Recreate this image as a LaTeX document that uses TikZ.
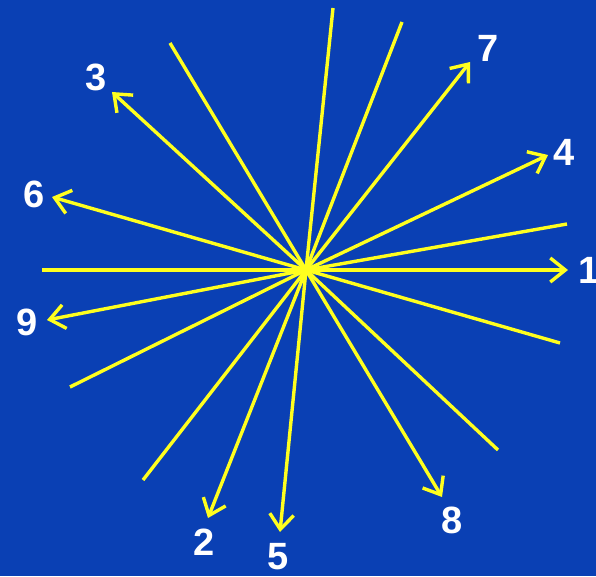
\documentclass[tikz,border=0pt]{standalone}
\usepackage{fontspec}
\setsansfont{Liberation Sans}
\usetikzlibrary{arrows.meta}
\definecolor{bgblue}{HTML}{0A40B4}
\definecolor{rayyellow}{HTML}{FFFF1E}
\tikzset{
  rayline/.style={draw=rayyellow, line width=3.4pt, line join=round, -{Straight Barb[length=15pt, width=24pt, line width=3.4pt]}},
  num/.style={text=white, inner sep=0pt, font=\sffamily\bfseries\fontsize{38}{38}\selectfont}
}
\begin{document}
\begin{tikzpicture}[x=1pt, y=1pt]
  \fill[bgblue] (0,0) rectangle (596,576);
  \useasboundingbox (0,0) rectangle (596,576);

  \coordinate (c) at (306,306);

  % free ends of the rays
  \coordinate (t1) at (42,306);
  \coordinate (t2) at (402,554);
  \coordinate (t3) at (498,126);
  \coordinate (t4) at (70,189);
  \coordinate (t5) at (333,568);
  \coordinate (t6) at (560,233);
  \coordinate (t7) at (143,96);
  \coordinate (t8) at (170,533);
  \coordinate (t9) at (567,352);

  % arrow tips
  \coordinate (h1) at (568,306);
  \coordinate (h2) at (208,58);
  \coordinate (h3) at (112,484);
  \coordinate (h4) at (548,421);
  \coordinate (h5) at (280,44);
  \coordinate (h6) at (52,379);
  \coordinate (h7) at (470,514);
  \coordinate (h8) at (442,79);
  \coordinate (h9) at (47,256);

  \node[num] (n1) at (589,306) {1};
  \node[num] (n2) at (204,34) {2};
  \node[num] (n3) at (96,499) {3};
  \node[num] (n4) at (564,424) {4};
  \node[num] (n5) at (278,19) {5};
  \node[num] (n6) at (34,382) {6};
  \node[num] (n7) at (488,528) {7};
  \node[num] (n8) at (452,56) {8};
  \node[num] (n9) at (27,254) {9};

  \draw[rayline] (t1) -- (c) -- (h1);
  \draw[rayline] (t2) -- (c) -- (h2);
  \draw[rayline] (t3) -- (c) -- (h3);
  \draw[rayline] (t4) -- (c) -- (h4);
  \draw[rayline] (t5) -- (c) -- (h5);
  \draw[rayline] (t6) -- (c) -- (h6);
  \draw[rayline] (t7) -- (c) -- (h7);
  \draw[rayline] (t8) -- (c) -- (h8);
  \draw[rayline] (t9) -- (c) -- (h9);
\end{tikzpicture}
\end{document}
